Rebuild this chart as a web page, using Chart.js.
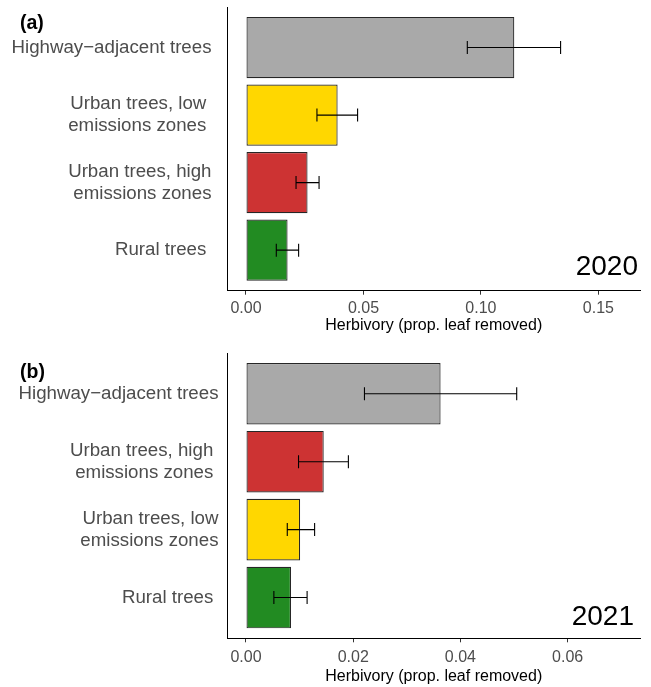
<!DOCTYPE html>
<html>
<head>
<meta charset="utf-8">
<script src="https://cdn.jsdelivr.net/npm/chart.js@4.4.0/dist/chart.umd.min.js"></script>
<style>
  body { margin: 0; background: #fff; }
  canvas { position: absolute; left: 0; }
</style>
</head>
<body>
<canvas id="chart2020" width="651" height="343" style="top:0px"></canvas>
<canvas id="chart2021" width="651" height="344" style="top:343px"></canvas>
<script>
var xTitle = 'Herbivory (prop. leaf removed)';

// 2020 panel, top to bottom
var labels2020 = ['Highway\u2212adjacent trees', ['Urban trees, low ', 'emissions zones '], ['Urban trees, high', 'emissions zones'], 'Rural trees '];
var means2020 = [0.1142, 0.0390, 0.0262, 0.0177];
var lower2020 = [0.0942, 0.0302, 0.0213, 0.0129];
var upper2020 = [0.1339, 0.0475, 0.0311, 0.0224];
var colors2020 = ['#A9A9A9', '#FFD700', '#CD3333', '#228B22'];
var ticks2020 = [0, 0.05, 0.10, 0.15];

// 2021 panel, top to bottom
var labels2021 = ['Highway\u2212adjacent trees', ['Urban trees, high ', 'emissions zones '], ['Urban trees, low', 'emissions zones'], 'Rural trees '];
var means2021 = [0.0363, 0.0145, 0.0101, 0.0084];
var lower2021 = [0.0221, 0.0098, 0.0077, 0.0052];
var upper2021 = [0.0505, 0.0191, 0.0128, 0.0114];
var colors2021 = ['#A9A9A9', '#CD3333', '#FFD700', '#228B22'];
var ticks2021 = [0, 0.02, 0.04, 0.06];

Chart.defaults.font.family = '"Liberation Sans", Arial, Helvetica, sans-serif';

var errorBarPlugin = {
    id: 'errorBars',
    afterDatasetsDraw: function (chart, args, opts) {
        var ctx = chart.ctx, xs = chart.scales.x, ys = chart.scales.y;
        ctx.save();
        ctx.strokeStyle = '#000';
        ctx.lineWidth = 1.1;
        opts.lower.forEach(function (lo, i) {
            var y = ys.getPixelForValue(i);
            var x1 = xs.getPixelForValue(lo);
            var x2 = xs.getPixelForValue(opts.upper[i]);
            ctx.beginPath();
            ctx.moveTo(x1, y); ctx.lineTo(x2, y);
            ctx.moveTo(x1, y - 6.5); ctx.lineTo(x1, y + 6.5);
            ctx.moveTo(x2, y - 6.5); ctx.lineTo(x2, y + 6.5);
            ctx.stroke();
        });
        ctx.restore();
    }
};

// panel tag "(a)" and the year in the corner
var panelTextPlugin = {
    id: 'panelText',
    afterDraw: function (chart, args, opts) {
        var ctx = chart.ctx, area = chart.chartArea;
        ctx.save();
        ctx.fillStyle = '#000';
        ctx.textBaseline = 'alphabetic';
        ctx.textAlign = 'left';
        ctx.font = 'bold 19.5px "Liberation Sans", Arial, sans-serif';
        ctx.fillText(opts.tag, 20, opts.tagY);
        ctx.textAlign = 'right';
        ctx.font = '28px "Liberation Sans", Arial, sans-serif';
        ctx.fillText(opts.year, area.right - opts.yearDX, area.bottom - opts.yearDY);
        ctx.restore();
    }
};

function makePanel(id, p) {
    var ctx = document.getElementById(id).getContext('2d');
    return new Chart(ctx, {
        type: 'bar',
        data: {
            datasets: [{
                data: p.means.map(function (v, i) { return { x: v, y: i }; }),
                backgroundColor: p.colors,
                borderColor: '#262626',
                borderWidth: 1.2,
                borderSkipped: false,
                barPercentage: 0.907,
                categoryPercentage: 1
            }]
        },
        options: {
            indexAxis: 'y',
            responsive: false,
            animation: false,
            layout: { padding: { left: 0, right: 11, top: p.top, bottom: 0 } },
            plugins: {
                legend: { display: false },
                tooltip: { enabled: false },
                errorBars: { lower: p.lower, upper: p.upper },
                panelText: { tag: p.tag, tagY: p.tagY, year: p.year, yearDX: p.yearDX, yearDY: p.yearDY }
            },
            scales: {
                x: {
                    type: 'linear',
                    min: p.xMin,
                    max: p.xMax,
                    afterBuildTicks: function (s) {
                        s.ticks = p.xTicks.map(function (v) { return { value: v }; });
                    },
                    afterFit: function (s) {
                        s.height = p.xHeight;
                        s.paddingLeft = 0;
                        s.paddingRight = 0;
                    },
                    ticks: {
                        callback: function (v) { return v.toFixed(2); },
                        color: '#4D4D4D',
                        font: { size: 16 },
                        padding: p.tickPad,
                        maxRotation: 0,
                        autoSkip: false
                    },
                    grid: { drawOnChartArea: false, drawTicks: true, tickLength: 4, color: '#333333' },
                    border: { display: true, color: '#000', width: 1 },
                    title: { display: true, text: xTitle, color: '#000', font: { size: 16 }, padding: { top: 0, bottom: p.titlePad } }
                },
                y: {
                    type: 'linear',
                    reverse: true,
                    offset: false,
                    min: -0.6,
                    max: 3.6,
                    afterBuildTicks: function (s) {
                        s.ticks = p.labels.map(function (l, i) { return { value: i }; });
                    },
                    afterFit: function (s) {
                        s.width = 227.5;
                        s.paddingTop = 0;
                        s.paddingBottom = 0;
                    },
                    ticks: {
                        callback: function (v) { return p.labels[v]; },
                        color: '#4D4D4D',
                        font: { size: 18.7, lineHeight: 1.2 },
                        padding: p.labelPad,
                        autoSkip: false
                    },
                    grid: { display: false, drawTicks: false, tickLength: 0, offset: false },
                    border: { display: true, color: '#000', width: 1 }
                }
            }
        },
        plugins: [errorBarPlugin, panelTextPlugin]
    });
}

makePanel('chart2020', {
    labels: labels2020, means: means2020, lower: lower2020, upper: upper2020, colors: colors2020,
    xTicks: ticks2020, xMin: -0.00787, xMax: 0.1677,
    top: 7, xHeight: 52.3, tickPad: 4, titlePad: 7.4, labelPad: 16,
    tag: '(a)', tagY: 29, year: '2020', yearDX: 2, yearDY: 15.7
});

makePanel('chart2021', {
    labels: labels2021, means: means2021, lower: lower2021, upper: upper2021, colors: colors2021,
    xTicks: ticks2021, xMin: -0.00345, xMax: 0.0735,
    top: 10, xHeight: 48.7, tickPad: 6, titlePad: 0.8, labelPad: 9,
    tag: '(b)', tagY: 34.6, year: '2021', yearDX: 6, yearDY: 13.3
});
</script>
</body>
</html>
